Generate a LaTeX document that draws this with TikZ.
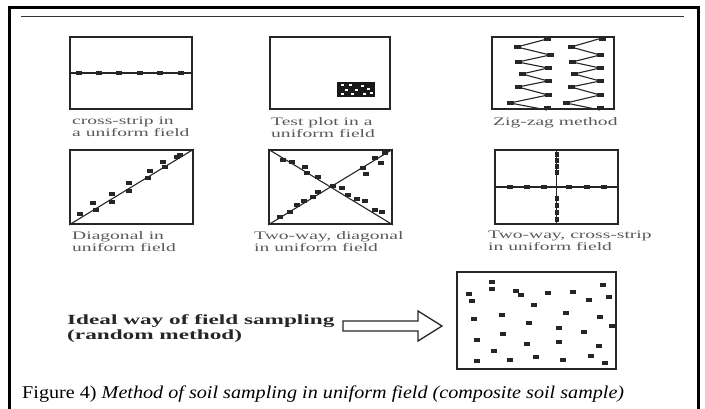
\documentclass[tikz,border=0pt]{standalone}
\usepackage{fontspec}
\setmainfont{Liberation Serif}
\newfontfamily\lblfont[FakeStretch=1.7]{Liberation Serif}
\newfontfamily\boldlbl[FakeStretch=1.66]{Liberation Serif}
\newfontfamily\capfont[FakeStretch=1.12]{Liberation Serif}
\begin{document}
\begin{tikzpicture}[x=1pt,y=-1pt,
  frameline/.style={line width=3pt, black},
  field/.style={draw=black!85, line width=1.8pt, inner sep=0pt},
  track/.style={line width=1.1pt, black!85},
  sq/.style={fill=black!85},
  lbl/.style={font=\lblfont\fontsize{11.5}{12}\selectfont, text=black!65, align=left, inner sep=0pt, anchor=north west},
  ideal/.style={font=\boldlbl\bfseries\fontsize{14}{15}\selectfont, text=black!85, align=left, inner sep=0pt, anchor=north west},
  hollow/.style={draw=black!85, line width=1.3pt, fill=white}
]
\useasboundingbox (0,0) rectangle (705,409);
% outer frame and rule
\draw[frameline] (9,409) -- (9,8) -- (698,8) -- (698,409);
\draw[line width=0.9pt, black!80] (21,16) -- (684,16);

% ---------- row 1 ----------
\node[field, minimum width=122pt, minimum height=72pt] (b1) at (131,73) {};
\node[field, minimum width=120pt, minimum height=72pt] (b2) at (330,73) {};
\node[field, minimum width=122pt, minimum height=72pt] (b3) at (553,73) {};

% cross-strip
\draw[track] (b1.west) -- (b1.east);
\foreach \x in {79,99,119,140,160,181} \fill[sq] (\x-3,73-2) rectangle +(6,4);

% test plot
\fill[black!90] (337,82) rectangle (375,97);
\foreach \x/\y in {341/84,349/84,361/85,345/89,355/89,367/88,341/93,351/93,363/93,370/92}
  \fill[white] (\x,\y) rectangle +(3,2.5);

% zig-zag
\draw[track] (547,39) -- (517,47) -- (550,55) -- (518,62) -- (548,68) -- (522,74) -- (548,81) -- (518,87) -- (548,95) -- (510,103) -- (547,110);
\draw[track] (602,38) -- (571,47) -- (600,55) -- (572,62) -- (600,68) -- (574,74) -- (600,81) -- (571,87) -- (600,95) -- (566,103) -- (600,110);
\foreach \x/\y in {547/39,517/47,550/55,518/62,548/68,522/74,548/81,518/87,548/95,510/103,547/108,
                   602/39,571/47,600/55,572/62,600/68,574/74,600/81,571/87,600/95,566/103,600/108}
  \fill[sq] (\x-3.5,\y-2) rectangle +(7,4);

\node[lbl] (l1) at (72,117) {cross-strip in\\a uniform field};
\node[lbl] (l2) at (271,117) {Test plot in a\\uniform field};
\node[lbl] (l3) at (493,117) {Zig-zag method};

% ---------- row 2 ----------
\node[field, minimum width=123pt, minimum height=74pt] (b4) at (131.5,187) {};
\node[field, minimum width=123pt, minimum height=74pt] (b5) at (330.5,187) {};
\node[field, minimum width=123pt, minimum height=74pt] (b6) at (556.5,187) {};

% diagonal
\draw[track] (b4.south west) -- (b4.north east);
\foreach \x/\y in {80/214,96/210,93/203,112/202,112/194,129/191,129/183,148/178,150/171,165/167,163/162,177/157,180/155}
  \fill[sq] (\x-3,\y-2) rectangle +(6,4);

% two-way diagonal
\draw[track] (b5.south west) -- (b5.north east);
\draw[track] (b5.north west) -- (b5.south east);
\foreach \x/\y in {283/160,292/162,305/167,307/173,318/177,333/186,342/188,348/195,357/199,365/201,375/210,382/212,
                   280/217,290/212,297/205,304/201,313/197,318/192,363/168,366/174,375/158,381/163,385/153}
  \fill[sq] (\x-3,\y-2) rectangle +(6,4);

% two-way cross-strip
\draw[track] (b6.north) -- (b6.south);
\draw[track] (b6.west) -- (b6.east);
\foreach \x in {510,527,544,569,587,604} \fill[sq] (\x-3,187-2) rectangle +(6,4);
\foreach \y in {155,161,167,173,199,206,213,220} \fill[sq] (556.5-2,\y-2.5) rectangle +(4,5);

\node[lbl] (l4) at (72,231) {Diagonal in\\uniform field};
\node[lbl] (l5) at (254,231) {Two-way, diagonal\\in uniform field};
\node[lbl] (l6) at (488,231) {Two-way, cross-strip\\in uniform field};

% ---------- random method ----------
\node[field, minimum width=159pt, minimum height=97pt] (b7) at (536.5,320.5) {};
\foreach \x/\y in {492/282,492/289,469/294,472/301,516/291,521/295,548/293,573/292,603/285,609/297,589/300,534/305,
                   474/319,502/315,566/313,600/317,529/323,559/328,584/332,612/326,503/334,477/340,527/344,559/342,
                   599/346,494/351,477/361,510/360,536/357,563/360,591/356,605/363}
  \fill[sq] (\x-3,\y-2) rectangle +(6,4);

\node[ideal] (t7) at (67,314) {Ideal way of field sampling\\(random method)};
\coordinate (as) at (343,326);
\coordinate (ae) at (442,326);
\draw[hollow] (as) ++(0,-5) -- ++(75,0) -- ++(0,-10) -- (ae) -- ++(-24,15) -- ++(0,-10) -- ++(-75,0) -- cycle;

% caption
\node[anchor=base west, inner sep=0pt, font=\capfont\fontsize{18}{20}\selectfont] (cap) at (22,398)
  {Figure 4) \textit{Method of soil sampling in uniform field (composite soil sample)}};
\end{tikzpicture}
\end{document}
